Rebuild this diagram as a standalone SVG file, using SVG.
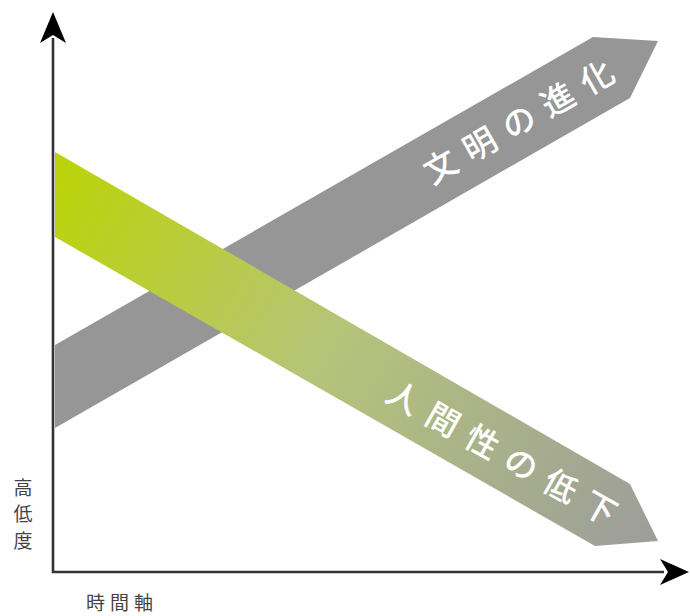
<svg xmlns="http://www.w3.org/2000/svg" width="690" height="616" viewBox="0 0 690 616">
<defs>
<linearGradient id="gGreen" gradientUnits="userSpaceOnUse" x1="55" y1="195" x2="658" y2="541">
<stop offset="0" stop-color="#BCD30C"/>
<stop offset="0.45" stop-color="#B6C479"/>
<stop offset="1" stop-color="#9C9D9B"/>
</linearGradient>
<style>
.axis{stroke:#333;stroke-width:2.6;fill:none}
.head{fill:#000}
.band-label{font-family:"Noto Sans CJK JP","Noto Sans",sans-serif;font-size:33px;font-weight:500;fill:#fff;letter-spacing:12px}
.axis-label{font-family:"Noto Sans CJK JP","Noto Sans",sans-serif;font-size:19px;fill:#444}
</style>
</defs>
<rect width="690" height="616" fill="#fff"/>
<g id="axes">
<line class="axis" x1="53" y1="573" x2="53" y2="38"/>
<line class="axis" x1="52" y1="572" x2="664" y2="572"/>
<polygon class="head" points="53,12 66,43 53,35 40,43"/>
<polygon class="head" points="689,572 660,585 668,572 660,559"/>
</g>
<g id="civilization">
<polygon points="55,345 593,37 658,41 630,98 55,428" fill="#959695"/>
<text class="band-label" transform="translate(524,119) rotate(-29.8)" x="0" y="12" text-anchor="middle">文明の進化</text>
</g>
<g id="humanity">
<polygon points="55,152 630,484 658,541 595,546 55,237" fill="url(#gGreen)"/>
<text class="band-label" transform="translate(507,456) rotate(29.5)" x="0" y="12" text-anchor="middle">人間性の低下</text>
</g>
<g id="y-label">
<text class="axis-label" text-anchor="middle"><tspan x="23" y="495">高</tspan><tspan x="23" y="521">低</tspan><tspan x="23" y="548">度</tspan></text>
</g>
<g id="x-label">
<text class="axis-label" x="122" y="610" text-anchor="middle" style="letter-spacing:5px;font-size:19px">時間軸</text>
</g>
</svg>
